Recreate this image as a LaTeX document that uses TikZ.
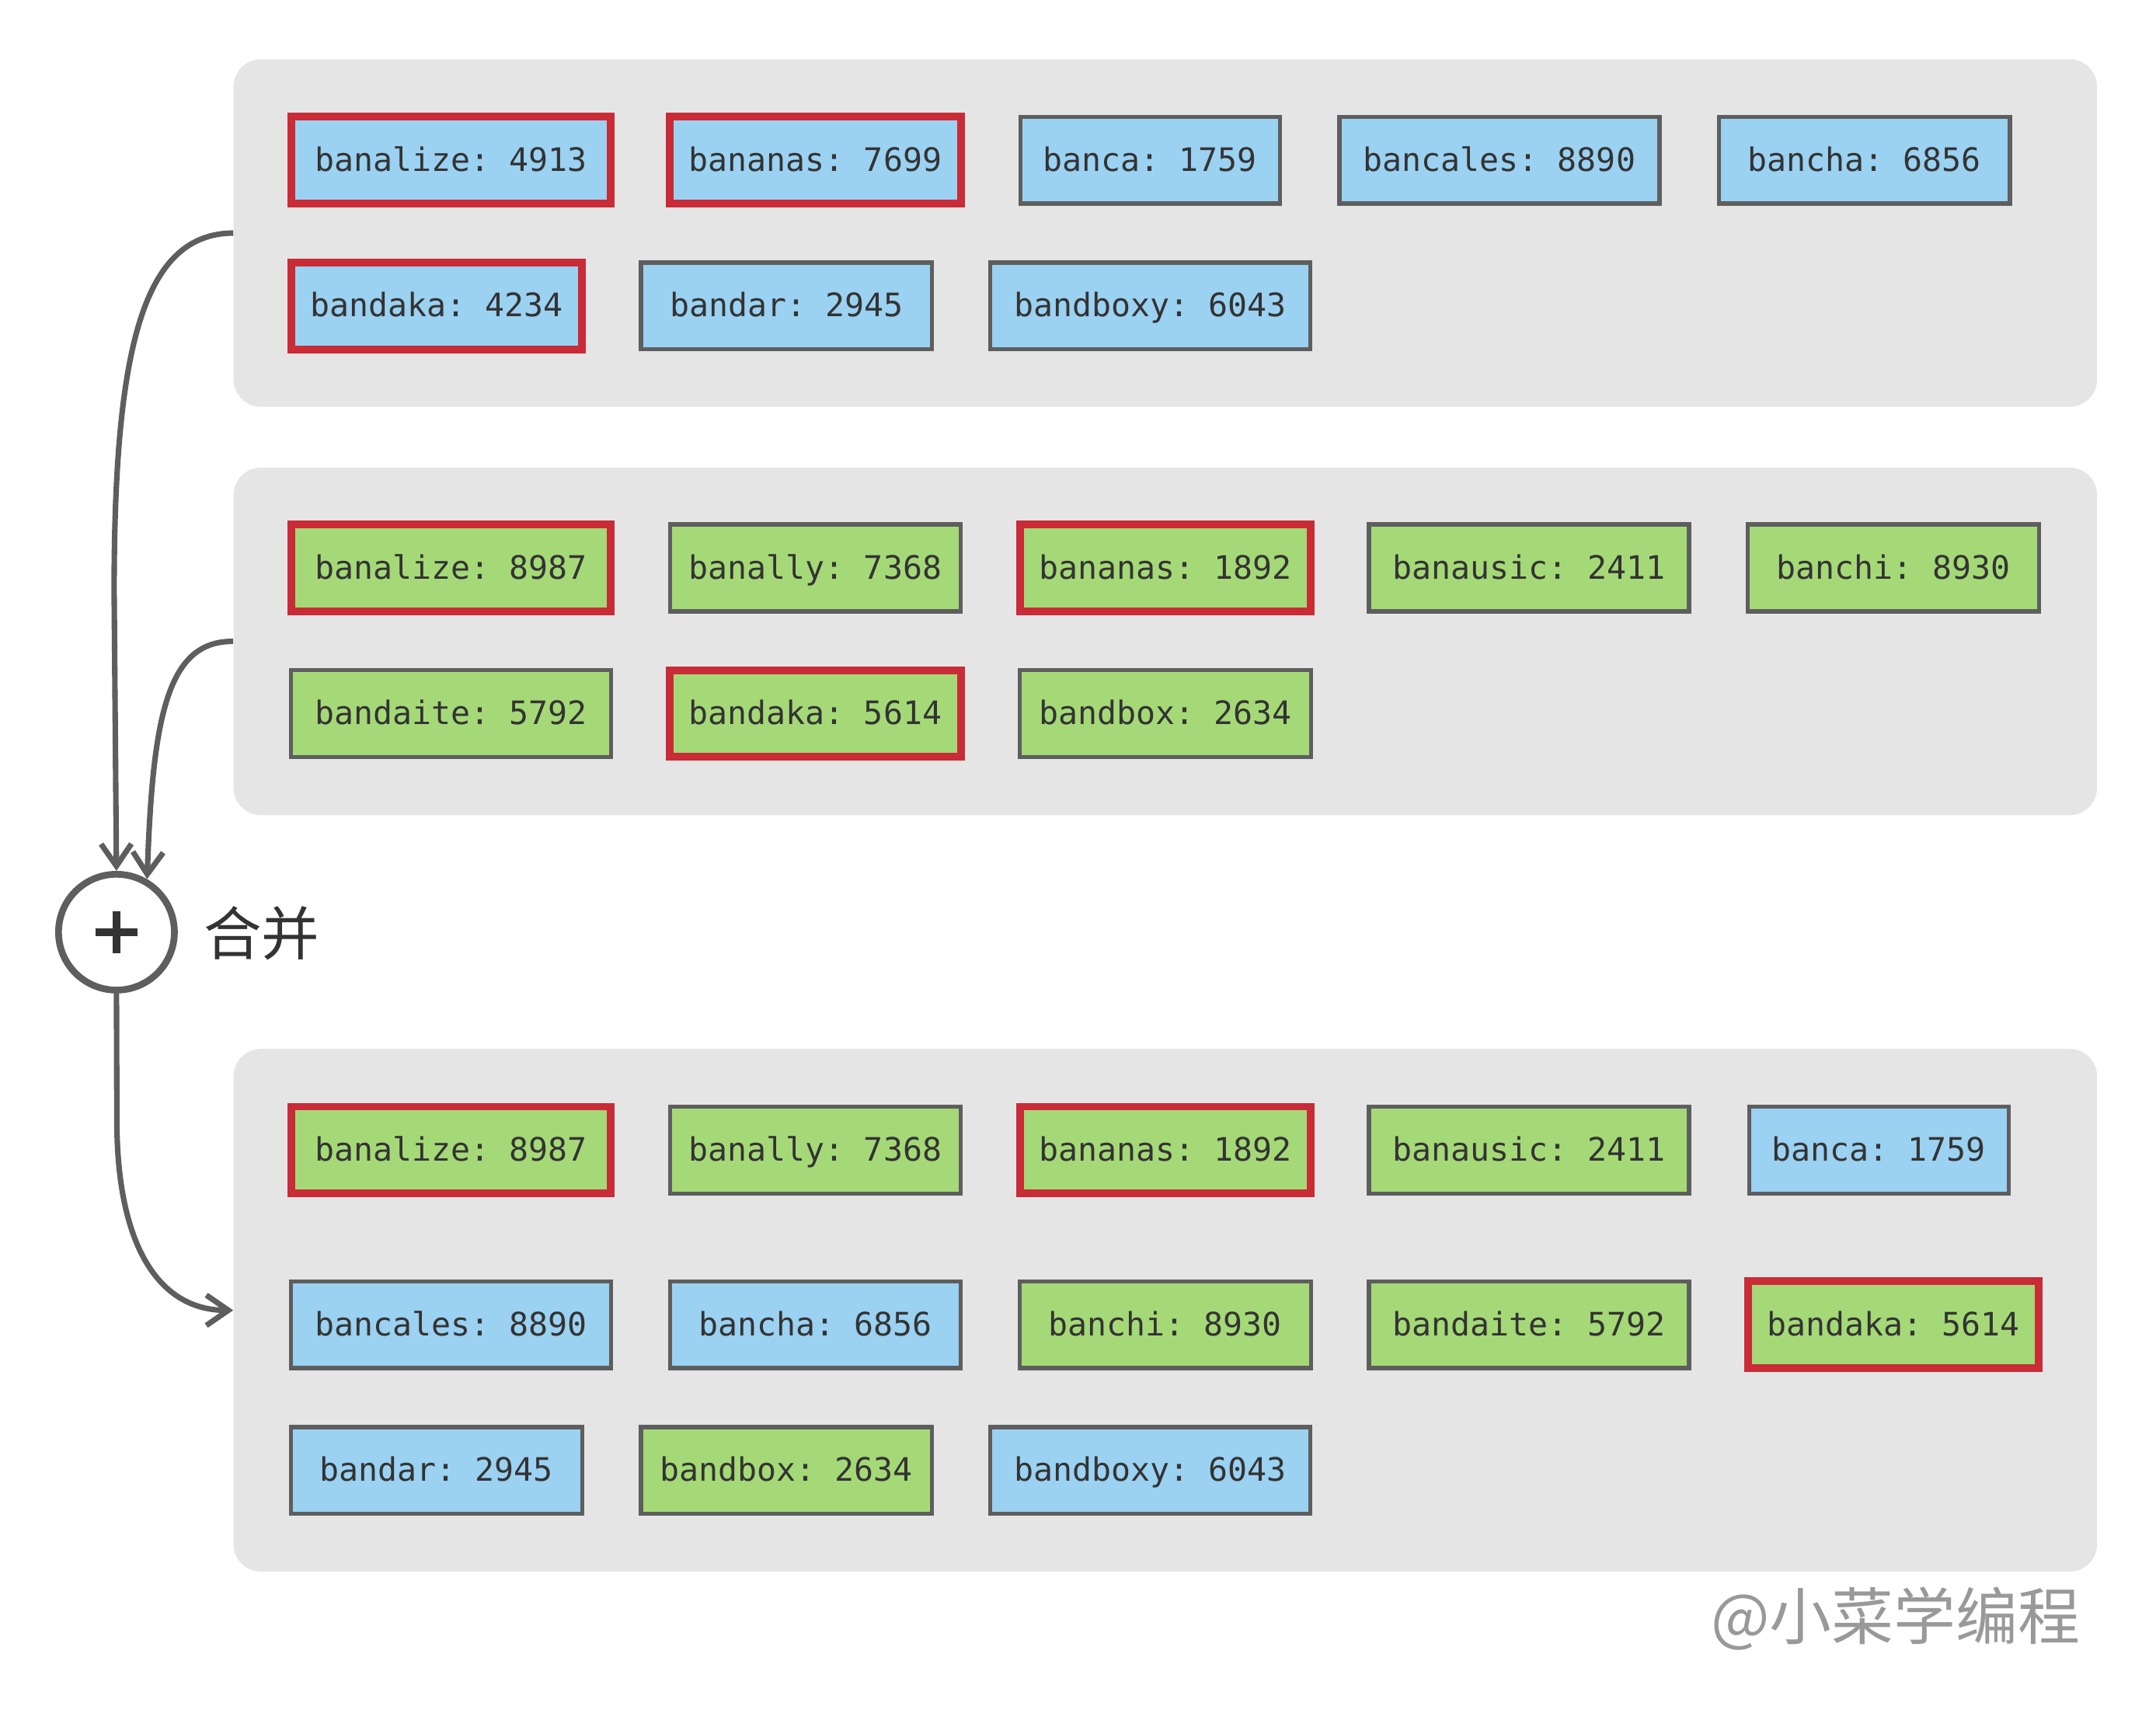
\documentclass[tikz,border=0pt]{standalone}
\usepackage{fontspec}
\usetikzlibrary{arrows.meta}
\newfontfamily\kvfont{DejaVu Sans Mono}
\newfontfamily\cjk{Noto Sans CJK SC}
\definecolor{panelgray}{HTML}{E5E5E5}
\definecolor{bordergray}{HTML}{5E5E5E}
\definecolor{boxblue}{HTML}{9BD1F1}
\definecolor{boxgreen}{HTML}{A5D977}
\definecolor{hotred}{HTML}{C92B37}
\definecolor{textdark}{HTML}{333333}
\definecolor{markgray}{HTML}{999999}
\tikzset{
  panel/.style={fill=panelgray, draw=none, rounded corners=20pt, minimum width=1351pt, inner sep=0pt},
  kv/.style={draw=bordergray, line width=3pt, minimum height=63pt, inner sep=0pt, text height=19pt, text depth=3pt, text=textdark, font=\frenchspacing\kvfont\fontsize{23.4pt}{28pt}\selectfont},
  w11/.style={minimum width=188pt},
  w13/.style={minimum width=211pt},
  w14/.style={minimum width=232pt},
  blu/.style={fill=boxblue},
  grn/.style={fill=boxgreen},
  hot/.style={draw=hotred, line width=5.6pt},
  conn/.style={draw=bordergray, line width=4pt, -{Straight Barb[length=16pt,width=22pt]}},
}
\begin{document}
\begin{tikzpicture}[x=0.9968pt,y=-0.9968pt]
\useasboundingbox (0,0) rectangle (1568,1251);
% panels
\node[panel, minimum height=252pt] (p1) at (847.5,169.5) {};
\node[panel, minimum height=252pt] (p2) at (847.5,466.5) {};
\node[panel, minimum height=379pt] (p3) at (847.5,953) {};
% panel 1
\node[kv,w14,blu,hot] (a1) at (328,116.5) {banalize: 4913};
\node[kv,w13,blu,hot] (a2) at (593,116.5) {bananas: 7699};
\node[kv,w11,blu] (a3) at (836.5,116.5) {banca: 1759};
\node[kv,w14,blu] (a4) at (1090.5,116.5) {bancales: 8890};
\node[kv,w13,blu] (a5) at (1356,116.5) {bancha: 6856};
\node[kv,w13,blu,hot] (a6) at (317.5,222.5) {bandaka: 4234};
\node[kv,w13,blu] (a7) at (572,222.5) {bandar: 2945};
\node[kv,w14,blu] (a8) at (836.5,222.5) {bandboxy: 6043};
% panel 2
\node[kv,w14,grn,hot] (b1) at (328,413) {banalize: 8987};
\node[kv,w13,grn] (b2) at (593,413) {banally: 7368};
\node[kv,w13,grn,hot] (b3) at (847.5,413) {bananas: 1892};
\node[kv,w14,grn] (b4) at (1112,413) {banausic: 2411};
\node[kv,w13,grn] (b5) at (1377,413) {banchi: 8930};
\node[kv,w14,grn] (b6) at (328,519) {bandaite: 5792};
\node[kv,w13,grn,hot] (b7) at (593,519) {bandaka: 5614};
\node[kv,w13,grn] (b8) at (847.5,519) {bandbox: 2634};
% panel 3
\node[kv,w14,grn,hot] (c1) at (328,836.5) {banalize: 8987};
\node[kv,w13,grn] (c2) at (593,836.5) {banally: 7368};
\node[kv,w13,grn,hot] (c3) at (847.5,836.5) {bananas: 1892};
\node[kv,w14,grn] (c4) at (1112,836.5) {banausic: 2411};
\node[kv,w11,blu] (c5) at (1366.5,836.5) {banca: 1759};
\node[kv,w14,blu] (c6) at (328,963.5) {bancales: 8890};
\node[kv,w13,blu] (c7) at (593,963.5) {bancha: 6856};
\node[kv,w13,grn] (c8) at (847.5,963.5) {banchi: 8930};
\node[kv,w14,grn] (c9) at (1112,963.5) {bandaite: 5792};
\node[kv,w13,grn,hot] (c10) at (1377,963.5) {bandaka: 5614};
\node[kv,w13,blu] (c11) at (317.5,1069.5) {bandar: 2945};
\node[kv,w13,grn] (c12) at (572,1069.5) {bandbox: 2634};
\node[kv,w14,blu] (c13) at (836.5,1069.5) {bandboxy: 6043};
% merge circle
\node[circle, draw=bordergray, line width=4.9pt, fill=white, minimum size=84pt, inner sep=0pt] (plus) at (84.7,678) {};
\draw[textdark, line width=5.3pt] ([xshift=-15pt]plus.center) -- ([xshift=15pt]plus.center);
\draw[textdark, line width=5.3pt] ([yshift=-15pt]plus.center) -- ([yshift=15pt]plus.center);
\node[anchor=west, text=textdark, font=\cjk\fontsize{42pt}{50pt}\selectfont, inner sep=0pt] (lbl) at (148,679) {合并};
% connectors
\draw[conn] (p1.west) .. controls (105,170) and (83,250) .. (83,430) -- (plus.north);
\draw[conn] (p2.west) .. controls (122,466) and (111,520) .. (plus.60);
\draw[conn] (plus.south) -- (85,815) .. controls (85,905) and (115,953) .. (p3.west);
% watermark
\node[anchor=east, text=markgray, font=\cjk\fontsize{45pt}{54pt}\selectfont, inner sep=0pt] (mark) at (1513,1177) {@小菜学编程};
\end{tikzpicture}
\end{document}
